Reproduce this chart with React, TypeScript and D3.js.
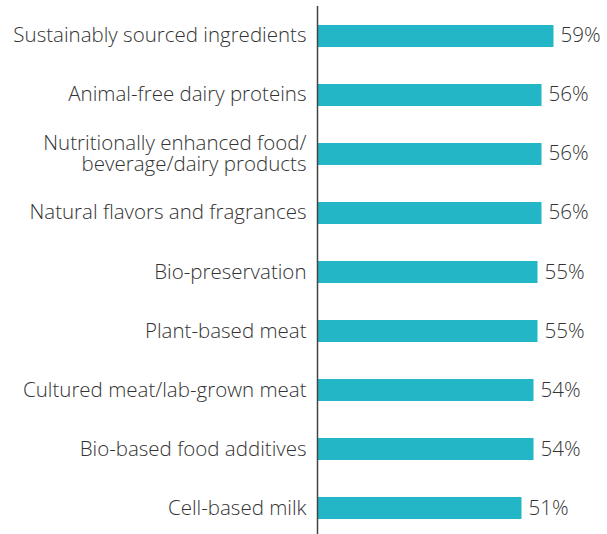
import React from "react";
import * as d3 from "d3";

const categories: string[][] = [
  ["Sustainably sourced ingredients"],
  ["Animal-free dairy proteins"],
  ["Nutritionally enhanced food/", "beverage/dairy products"],
  ["Natural flavors and fragrances"],
  ["Bio-preservation"],
  ["Plant-based meat"],
  ["Cultured meat/lab-grown meat"],
  ["Bio-based food additives"],
  ["Cell-based milk"],
];
const values: number[] = [59, 56, 56, 56, 55, 55, 54, 54, 51];

const W = 607;
const H = 534;
const axisX = 317.5;
const FONT = "'Open Sans', sans-serif";

export default function App() {
  const keys = categories.map((c) => c.join(" "));
  const x = d3.scaleLinear().domain([0, 100]).range([axisX, axisX + 400]);
  const y = d3
    .scaleBand<string>()
    .domain(keys)
    .range([7, 537])
    .paddingInner(0.627)
    .paddingOuter(0.305);

  return (
    <svg
      width={W}
      height={H}
      style={{ position: "absolute", left: 0, top: 0, background: "#fff" }}
    >
      {keys.map((k, i) => {
        const y0 = y(k)!;
        const cy = y0 + y.bandwidth() / 2;
        const lines = categories[i];
        const lh = 20.5;
        return (
          <g key={k}>
            <rect
              x={x(0)}
              y={y0}
              width={x(values[i]) - x(0)}
              height={y.bandwidth()}
              fill="#22b6c6"
            />
            <text
              x={x(values[i]) + 7}
              y={cy + 6.5}
              fontFamily={FONT}
              fontSize={20.6}
              fontWeight={350}
              fill="#333"
            >
              {values[i]}%
            </text>
            <text
              x={axisX - 11}
              y={cy + 6.5 - ((lines.length - 1) * lh) / 2}
              fontFamily={FONT}
              fontSize={20.5}
              fontWeight={350}
              fill="#333"
              textAnchor="end"
            >
              {lines.map((l, j) => (
                <tspan key={j} x={axisX - 11} dy={j === 0 ? 0 : lh}>
                  {l}
                </tspan>
              ))}
            </text>
          </g>
        );
      })}
      <line x1={axisX} x2={axisX} y1={6} y2={H} stroke="#444" strokeWidth={1.5} />
    </svg>
  );
}
